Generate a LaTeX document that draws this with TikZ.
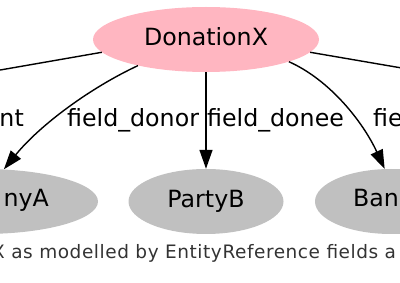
\documentclass[tikz,border=0pt]{standalone}
\usepackage{fontspec}
\setmainfont{DejaVu Sans}
\newfontfamily\capfont[LetterSpace=3]{DejaVu Sans}
\usetikzlibrary{shapes.geometric,arrows.meta}
\definecolor{donpink}{HTML}{FFB6C1}
\definecolor{entgray}{HTML}{C0C0C0}
\definecolor{capgray}{HTML}{333333}
\begin{document}
\begin{tikzpicture}[x=1pt,y=-1pt,
  bigfont/.style={font=\fontsize{23.7}{28}\selectfont},
  blob/.style={ellipse, draw=none, minimum height=65pt, inner sep=0pt,
    text height=17pt, text depth=5pt, bigfont},
  ent/.style={blob, fill=entgray, minimum width=#1},
  lbl/.style={bigfont, inner sep=0pt, anchor=base west},
  plainedge/.style={line width=1.4pt, black},
  conn/.style={plainedge, -{Triangle[length=19pt,width=13pt]}},
  captxt/.style={font=\capfont\fontsize{18.5}{22}\selectfont, text=capgray, inner sep=0pt, anchor=base west}]
\useasboundingbox (0,0) rectangle (400,283);
\clip (0,0) rectangle (400,283);
% nodes
\node[blob, fill=donpink, minimum width=226pt] (don) at (206,39.5) {DonationX};
\node[ent=230pt] (compa) at (-17,201.5) {};
\node[ent=155pt] (partyb) at (206,201.5) {PartyB};
\node[ent=152pt] (bank) at (391,201.5) {};
\node[lbl, anchor=base east] (compatxt) at (49,207) {nyA};
\node[lbl] (banktxt) at (353,207) {Ban};
% off-picture ends
\coordinate (offl) at (-60,80.5);
\coordinate (offr) at (460,78);
% connectors
\draw[plainedge] (don.187) -- (offl);
\draw[plainedge] (don.-7.4) -- (offr);
\draw[conn] (don.201) .. controls (90,88) and (40,125) .. (compa.57);
\draw[conn] (don.south) -- (partyb.north);
\draw[conn] (don.-15.5) .. controls (330,80) and (363,122) .. (bank.101);
% edge labels
\node[lbl, anchor=base east] (l1) at (24,127) {nt};
\node[lbl] (l2) at (67,127) {field\_donor};
\node[lbl] (l3) at (207,127) {field\_donee};
\node[lbl] (l4) at (373,127) {fie};
% caption
\node[captxt] (cap) at (-8,259) {X as modelled by EntityReference fields a};
\end{tikzpicture}
\end{document}
